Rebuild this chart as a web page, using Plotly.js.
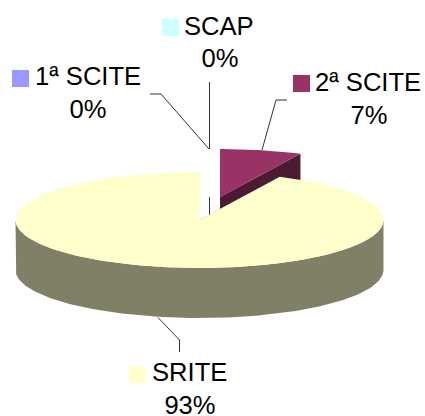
<!DOCTYPE html>
<html><head><meta charset="utf-8">
<script src="https://cdn.plot.ly/plotly-3.0.1.min.js"></script>
<style>html,body{margin:0;padding:0;background:#fff}#c{width:425px;height:416px}</style>
</head><body><div id="c"></div>
<script>
// Data (clockwise from 12 o'clock)
const categories = ['2ª SCITE', 'SRITE', '1ª SCITE', 'SCAP'];
const values = [7.2, 92.8, 0, 0];
const percentLabels = ['7%', '93%', '0%', '0%'];

// Styles
const topColors = ['#993366', '#FFFFCC', '#9999FF', '#CCFFFF'];
const sideColors = ['#4D1A33', '#808066', '#333366', '#333366'];

// Pie geometry in axis units (axis = page pixels)
const RX = 184, RY = 48, DEPTH = 50;
const cx = [220, 199.5, 209.5, 209.5];
const cy = [197, 220, 197, 197];

// Label layout
const swatchX = [301.5, 137.5, 20.5, 170.5];
const swatchY = [83.5, 374.5, 78.5, 27.5];
const nameX = [315, 152, 35, 184];
const nameY = [84.5, 375, 79, 28.5];
const pctX = [369, 190, 88, 220];
const pctY = [117.5, 407.5, 111.5, 61];
const leaders = [
  {x: [287, 276, 262], y: [100, 100, 150]},
  {x: [158, 179.5, 179.5], y: [317.5, 340, 352]},
  {x: [150, 161, 209], y: [94, 94, 149]},
  {x: [209.5, 209.5], y: [82, 149]}
];

const rad = d => d * Math.PI / 180;
const total = values.reduce((a, b) => a + b, 0);
let acc = 0;
const slices = categories.map((name, i) => {
  const a0 = acc / total * 360; acc += values[i];
  return {i, name, a0, a1: acc / total * 360};
});
function arc(s, a0, a1, dy) {
  const xs = [], ys = [], n = Math.max(1, Math.ceil(Math.abs(a1 - a0)));
  for (let k = 0; k <= n; k++) {
    const a = rad(a0 + (a1 - a0) * k / n);
    xs.push(cx[s.i] + RX * Math.sin(a));
    ys.push(cy[s.i] - RY * Math.cos(a) + dy);
  }
  return {xs, ys};
}
function poly(x, y, color) {
  return {type: 'scatter', mode: 'lines', x, y, fill: 'toself', fillcolor: color,
    line: {width: 0, color}, hoverinfo: 'skip', showlegend: false};
}
const traces = [];
// Zero-sized slices appear as a thin vertical line
slices.filter(s => s.a1 === s.a0).forEach(s => {
  traces.push({type: 'scatter', mode: 'lines', x: [cx[s.i], cx[s.i]], y: [cy[s.i], cy[s.i] + DEPTH],
    line: {color: sideColors[s.i], width: 1}, hoverinfo: 'skip', showlegend: false});
});
// Non-zero slices, back to front
slices.filter(s => s.a1 > s.a0).forEach(s => {
  const c = sideColors[s.i];
  // cut faces
  [s.a0, s.a1].forEach(an => {
    const e = arc(s, an, an, 0);
    traces.push(poly([cx[s.i], e.xs[0], e.xs[0], cx[s.i], cx[s.i]],
      [cy[s.i], e.ys[0], e.ys[0] + DEPTH, cy[s.i] + DEPTH, cy[s.i]], c));
  });
  // outer wall on the front half
  const w0 = Math.max(s.a0, 90), w1 = Math.min(s.a1, 270);
  if (w1 > w0) {
    const t = arc(s, w0, w1, 0), b = arc(s, w1, w0, DEPTH);
    traces.push(poly(t.xs.concat(b.xs), t.ys.concat(b.ys), c));
  }
  const t = arc(s, s.a0, s.a1, 0);
  traces.push(poly([cx[s.i]].concat(t.xs, [cx[s.i]]), [cy[s.i]].concat(t.ys, [cy[s.i]]), topColors[s.i]));
});
// Leader lines
leaders.forEach(l => traces.push({type: 'scatter', mode: 'lines', x: l.x, y: l.y,
  line: {color: '#333333', width: 1}, hoverinfo: 'skip', showlegend: false}));
// Legend-key swatches
traces.push({type: 'scatter', mode: 'markers', x: swatchX, y: swatchY,
  marker: {symbol: 'square', size: 17, color: topColors, line: {width: 0}},
  hoverinfo: 'skip', showlegend: false});
const font = {family: '"Liberation Sans", Arial, sans-serif', size: 25.6, color: '#000'};
traces.push({type: 'scatter', mode: 'text', x: nameX, y: nameY, text: categories,
  textposition: 'middle right', textfont: font, hoverinfo: 'skip', showlegend: false});
traces.push({type: 'scatter', mode: 'text', x: pctX, y: pctY, text: percentLabels,
  textposition: 'middle center', textfont: font, hoverinfo: 'skip', showlegend: false});

const hidden = {visible: false, fixedrange: true};
Plotly.newPlot('c', traces, {
  width: 425, height: 416, margin: {l: 0, r: 0, t: 0, b: 0},
  paper_bgcolor: '#fff', plot_bgcolor: '#fff', showlegend: false,
  xaxis: Object.assign({range: [0, 425]}, hidden),
  yaxis: Object.assign({range: [416, 0]}, hidden)
}, {displayModeBar: false, staticPlot: true});
</script></body></html>
